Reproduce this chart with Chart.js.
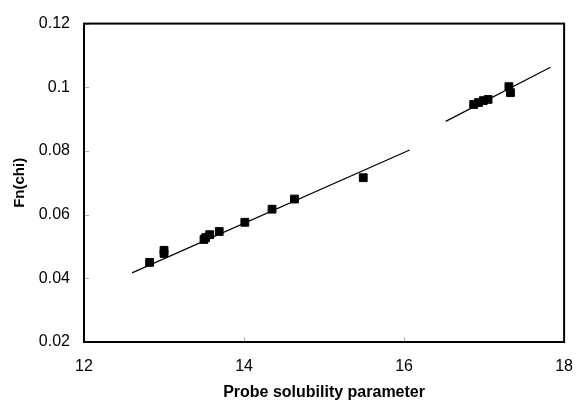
<!DOCTYPE html>
<html>
<head>
<meta charset="utf-8">
<script src="https://cdn.jsdelivr.net/npm/chart.js@4.4.1/dist/chart.umd.min.js"></script>
<style>
  html, body { margin: 0; padding: 0; background: #fff; }
  #wrap { width: 588px; height: 404px; }
</style>
</head>
<body>
<div id="wrap"><canvas id="grafico" width="588" height="404"></canvas></div>
<script>
// pontos medidos
const probeX = [12.82, 13.0, 13.0, 13.5, 13.52, 13.57, 13.69, 14.01, 14.35, 14.63, 15.49,
                16.87, 16.93, 16.99, 17.05, 17.31, 17.33];
const fnChi = [0.0450, 0.0488, 0.0478, 0.0522, 0.0528, 0.0537, 0.0547, 0.0576, 0.0617, 0.0649, 0.0716,
               0.0946, 0.0952, 0.0958, 0.0962, 0.1002, 0.0983];

// retas de ajuste (duas partes)
const fit1X = [12.60, 16.07];
const fit1Y = [0.0417, 0.0803];
const fit2X = [16.52, 17.83];
const fit2Y = [0.0893, 0.1063];

const xTicks = [12, 14, 16, 18];
const yTicks = [0.02, 0.04, 0.06, 0.08, 0.1, 0.12];

const toXY = (xs, ys) => xs.map((x, i) => ({ x: x, y: ys[i] }));

// moldura + marcas internas
const moldura = {
    id: 'moldura',
    afterDraw(chart) {
        const ctx = chart.ctx;
        const a = chart.chartArea;
        const sx = chart.scales.x, sy = chart.scales.y;
        ctx.save();
        ctx.strokeStyle = '#b0b0b0';
        ctx.lineWidth = 1;
        ctx.beginPath();
        xTicks.forEach(v => {
            const px = Math.round(sx.getPixelForValue(v)) + 0.5;
            ctx.moveTo(px, a.bottom);
            ctx.lineTo(px, a.bottom - 5);
        });
        yTicks.forEach(v => {
            const py = Math.round(sy.getPixelForValue(v)) + 0.5;
            ctx.moveTo(a.left, py);
            ctx.lineTo(a.left + 5, py);
        });
        ctx.stroke();
        ctx.strokeStyle = '#000';
        ctx.lineWidth = 2;
        ctx.strokeRect(a.left, a.top, a.right - a.left, a.bottom - a.top);
        ctx.restore();
    }
};

const ctx = document.getElementById('grafico').getContext('2d');
const grafico = new Chart(ctx, {
    type: 'scatter',
    data: {
        datasets: [{
            label: 'Fn(chi)',
            data: toXY(probeX, fnChi),
            pointStyle: 'rect',
            pointRadius: 5.5,
            pointHoverRadius: 5.5,
            backgroundColor: '#000',
            borderColor: '#000',
            borderWidth: 1
        }, {
            label: 'ajuste 1',
            data: toXY(fit1X, fit1Y),
            showLine: true,
            pointRadius: 0,
            borderColor: '#000',
            borderWidth: 1.2
        }, {
            label: 'ajuste 2',
            data: toXY(fit2X, fit2Y),
            showLine: true,
            pointRadius: 0,
            borderColor: '#000',
            borderWidth: 1.2
        }]
    },
    options: {
        responsive: false,
        animation: false,
        layout: { padding: { left: 0, top: 15, right: 0, bottom: 0 } },
        plugins: { legend: { display: false }, tooltip: { enabled: false } },
        scales: {
            x: {
                type: 'linear',
                min: 12,
                max: 18,
                afterFit: s => { s.height = 62; },
                afterBuildTicks: s => { s.ticks = xTicks.map(v => ({ value: v })); },
                grid: { display: false, drawTicks: false },
                border: { display: false },
                ticks: {
                    padding: 15,
                    color: '#000',
                    font: { family: 'Liberation Sans, Arial', size: 16 }
                },
                title: {
                    display: true,
                    text: 'Probe solubility parameter',
                    color: '#000',
                    padding: { top: 0, bottom: 2 },
                    font: { family: 'Liberation Sans, Arial', size: 16, weight: 'bold' }
                }
            },
            y: {
                min: 0.02,
                max: 0.12,
                afterFit: s => { s.width = 84; },
                afterBuildTicks: s => { s.ticks = yTicks.map(v => ({ value: v })); },
                grid: { display: false, drawTicks: false },
                border: { display: false },
                ticks: {
                    padding: 14,
                    color: '#000',
                    font: { family: 'Liberation Sans, Arial', size: 16 },
                    callback: v => String(Math.round(v * 100) / 100)
                },
                title: {
                    display: true,
                    text: 'Fn(chi)',
                    color: '#000',
                    padding: { top: 11, bottom: 0 },
                    font: { family: 'Liberation Sans, Arial', size: 15, weight: 'bold' }
                }
            }
        }
    },
    plugins: [moldura]
});
</script>
</body>
</html>
